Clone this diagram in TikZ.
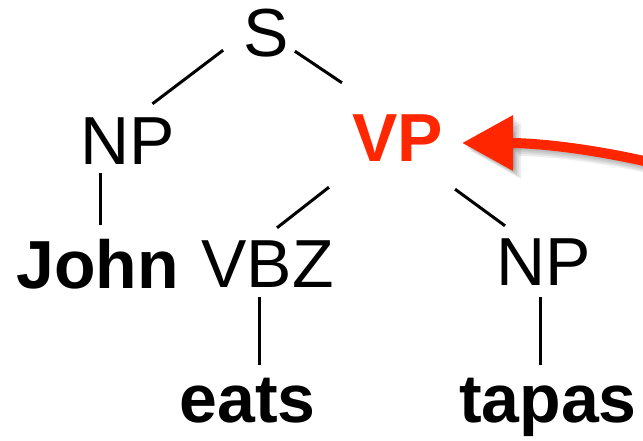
\documentclass[tikz,border=0pt]{standalone}
\usepackage{fontspec}
\setmainfont{Liberation Sans}
\usepackage{tikz}
\usetikzlibrary{arrows.meta,positioning}
\usepackage{xcolor}
\definecolor{treered}{RGB}{255,38,0}
\tikzstyle{catnode} = [inner sep=0pt, anchor=base, text height=49pt, text depth=0pt, font=\fontsize{68pt}{80pt}\selectfont]
\tikzstyle{wordnode} = [catnode, font=\fontsize{68pt}{80pt}\selectfont\bfseries]
\tikzstyle{branch} = [line width=3pt, black]
\tikzstyle{pointer} = [line width=10pt, treered, -{Triangle[length=51pt,width=53pt]}]

\begin{document}
\begin{tikzpicture}[x=1pt, y=1pt]
\useasboundingbox (0,0) rectangle (643,440);
\node[catnode] (s) at (266,383) {S};
\node[catnode] (np1) at (128,275) {NP};
\node[wordnode, text=treered] (vp) at (397.5,278) {VP};
\node[wordnode] (john) at (97.5,152) {John};
\node[catnode] (vbz) at (267.5,153) {VBZ};
\node[catnode] (np2) at (543.5,155) {NP};
\node[wordnode] (eats) at (247.5,18) {eats};
\node[wordnode] (tapas) at (548,18) {tapas};
\coordinate (src) at (700,265);

\draw[branch] ([xshift=-20pt,yshift=7pt]s.south west) -- ([xshift=-23pt,yshift=12pt]np1.north east);
\draw[branch] ([xshift=6pt,yshift=6pt]s.south east) -- ([xshift=-10pt,yshift=30pt]vp.north west);
\draw[branch] ([xshift=-28pt,yshift=-8pt]np1.south) -- ([xshift=2.5pt,yshift=14pt]john.north);
\draw[branch] ([xshift=-23pt,yshift=-25pt]vp.south west) -- ([xshift=9.5pt,yshift=10pt]vbz.north);
\draw[branch] ([xshift=12pt,yshift=-27pt]vp.south east) -- ([xshift=9pt,yshift=10pt]np2.north west);
\draw[branch] ([xshift=-8.5pt,yshift=-10pt]vbz.south) -- ([xshift=11.5pt,yshift=8pt]eats.north);
\draw[branch] ([xshift=-3.5pt,yshift=-12pt]np2.south) -- ([xshift=-8pt,yshift=8pt]tapas.north);

% pointer with a soft shadow under it
\foreach \d in {2,4,6,8}
  \draw[pointer, black, opacity=0.07, transform canvas={shift={(\d pt,-\d pt)}}] (src) .. controls (600,293) and (530,297) .. ([xshift=19pt,yshift=-5.5pt]vp.east);
\draw[pointer] (src) .. controls (600,293) and (530,297) .. ([xshift=19pt,yshift=-5.5pt]vp.east);
\end{tikzpicture}
\end{document}
